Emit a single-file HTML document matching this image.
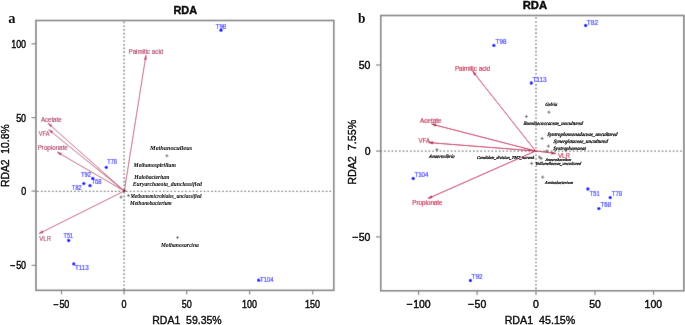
<!DOCTYPE html>
<html><head><meta charset="utf-8"><style>
html,body{margin:0;padding:0;background:#fff;overflow:hidden}
svg{display:block}
text{font-family:"Liberation Sans",sans-serif;white-space:pre;stroke:currentColor}
</style></head><body>
<svg width="685" height="325" viewBox="0 0 685 325">
<defs><filter id="bl" filterUnits="userSpaceOnUse" x="0" y="0" width="685" height="325"><feConvolveMatrix order="3" kernelMatrix="0.0100 0.0800 0.0100 0.0800 0.6400 0.0800 0.0100 0.0800 0.0100" edgeMode="duplicate"/></filter><filter id="id0" filterUnits="userSpaceOnUse" x="0" y="0" width="685" height="325"><feConvolveMatrix order="3" kernelMatrix="0.0000 0.0000 0.0000 0.0000 1.0000 0.0000 0.0000 0.0000 0.0000" edgeMode="duplicate"/></filter></defs>
<rect width="685" height="325" fill="#fff"/>
<g filter="url(#bl)">
<rect width="685" height="325" fill="#fff"/>
<rect x="35.95" y="20.5" width="297.85" height="269.85" fill="none" stroke="#808080" stroke-width="1.6"/>
<rect x="380.75" y="15.5" width="303.15" height="275.25" fill="none" stroke="#808080" stroke-width="1.6"/>
<g stroke="#5a5a5a" stroke-width="1.2" stroke-dasharray="1.6 2.10">
<line x1="124.1" y1="20.5" x2="124.1" y2="290.35" stroke-dashoffset="2.50"/>
<line stroke="#6e6e6e" stroke-width="1.15" x1="35.95" y1="191.3" x2="333.8" y2="191.3" stroke-dashoffset="2.45"/>
<line x1="536" y1="15.5" x2="536" y2="290.75" stroke-dashoffset="1.70"/>
<line stroke="#6e6e6e" stroke-width="1.15" x1="380.75" y1="151.1" x2="683.9" y2="151.1" stroke-dashoffset="0.25"/>
</g>
<g stroke="#808080" stroke-width="1.2">
<line x1="31.5" y1="43.8" x2="36" y2="43.8"/>
<line x1="31.5" y1="117.6" x2="36" y2="117.6"/>
<line x1="31.5" y1="191.1" x2="36" y2="191.1"/>
<line x1="31.5" y1="265.4" x2="36" y2="265.4"/>
<line x1="61.5" y1="290" x2="61.5" y2="294.5"/>
<line x1="124.1" y1="290" x2="124.1" y2="294.5"/>
<line x1="186.7" y1="290" x2="186.7" y2="294.5"/>
<line x1="249.6" y1="290" x2="249.6" y2="294.5"/>
<line x1="312.7" y1="290" x2="312.7" y2="294.5"/>
<line x1="376" y1="65" x2="381" y2="65"/>
<line x1="376" y1="151.1" x2="381" y2="151.1"/>
<line x1="376" y1="236.9" x2="381" y2="236.9"/>
<line x1="418.6" y1="290.5" x2="418.6" y2="295"/>
<line x1="477.1" y1="290.5" x2="477.1" y2="295"/>
<line x1="536" y1="290.5" x2="536" y2="295"/>
<line x1="595" y1="290.5" x2="595" y2="295"/>
<line x1="653.5" y1="290.5" x2="653.5" y2="295"/>
</g>
<g stroke="#c4104c" stroke-width="1.0" fill="none" stroke-linecap="round">
<line stroke="#b84866" stroke-width="0.9" x1="124.3" y1="191" x2="145.9" y2="55.7"/>
<path d="M145.9,55.7 L144.24,59.34 L146.35,59.68Z" fill="#b03058" stroke="#b03058" stroke-width="0.4"/>
<line stroke="#b84866" stroke-width="0.9" x1="124.3" y1="191" x2="48.3" y2="123.5"/>
<path d="M48.3,123.5 L50.47,126.86 L51.89,125.26Z" fill="#b03058" stroke="#b03058" stroke-width="0.4"/>
<line stroke="#b84866" stroke-width="0.9" x1="124.3" y1="191" x2="49.1" y2="130"/>
<path d="M49.1,130 L51.42,133.26 L52.77,131.6Z" fill="#b03058" stroke="#b03058" stroke-width="0.4"/>
<line stroke="#b84866" stroke-width="0.9" x1="124.3" y1="191" x2="57.5" y2="152.3"/>
<path d="M57.5,152.3 L60.3,155.16 L61.37,153.31Z" fill="#b03058" stroke="#b03058" stroke-width="0.4"/>
<line stroke="#b84866" stroke-width="0.9" x1="124.3" y1="191" x2="39.3" y2="233.5"/>
<path d="M39.3,233.5 L43.23,232.73 L42.27,230.82Z" fill="#b03058" stroke="#b03058" stroke-width="0.4"/>
<line stroke="#c4104c" stroke-width="1.0" x1="535.6" y1="151" x2="472.9" y2="71.6"/>
<path d="M472.9,71.6 L474.45,75.29 L476.13,73.96Z" fill="#a00c3c" stroke="#a00c3c" stroke-width="0.4"/>
<line stroke="#c4104c" stroke-width="1.0" x1="535.6" y1="151" x2="432" y2="124.2"/>
<path d="M432,124.2 L435.47,126.2 L436,124.13Z" fill="#a00c3c" stroke="#a00c3c" stroke-width="0.4"/>
<line stroke="#c4104c" stroke-width="1.0" x1="535.6" y1="151" x2="428.9" y2="142.6"/>
<path d="M428.9,142.6 L432.66,143.97 L432.83,141.84Z" fill="#a00c3c" stroke="#a00c3c" stroke-width="0.4"/>
<line stroke="#c4104c" stroke-width="1.0" x1="535.6" y1="151" x2="428.3" y2="198.4"/>
<path d="M428.3,198.4 L432.26,197.82 L431.4,195.87Z" fill="#a00c3c" stroke="#a00c3c" stroke-width="0.4"/>
<line stroke="#c4104c" stroke-width="1.0" x1="535.6" y1="151" x2="555.5" y2="153.4"/>
<path d="M555.5,153.4 L551.8,151.88 L551.54,154Z" fill="#a00c3c" stroke="#a00c3c" stroke-width="0.4"/>
</g>
<circle cx="124.5" cy="190.8" r="1.3" fill="#5a2035"/>
<g stroke="#505050" stroke-width="0.8">
<line x1="165.4" y1="155.8" x2="168.4" y2="155.8"/>
<line x1="166.9" y1="154.3" x2="166.9" y2="157.3"/>
<line x1="176" y1="237.5" x2="179" y2="237.5"/>
<line x1="177.5" y1="236" x2="177.5" y2="239"/>
<line x1="119.5" y1="197.1" x2="122.5" y2="197.1"/>
<line x1="121" y1="195.6" x2="121" y2="198.6"/>
<line x1="126.9" y1="195.5" x2="129.9" y2="195.5"/>
<line x1="128.4" y1="194" x2="128.4" y2="197"/>
<line x1="547.3" y1="112.2" x2="550.5" y2="112.2"/>
<line x1="548.9" y1="110.6" x2="548.9" y2="113.8"/>
<line x1="524.8" y1="116.5" x2="528" y2="116.5"/>
<line x1="526.4" y1="114.9" x2="526.4" y2="118.1"/>
<line x1="540.5" y1="138.5" x2="543.7" y2="138.5"/>
<line x1="542.1" y1="136.9" x2="542.1" y2="140.1"/>
<line x1="546.8" y1="146.2" x2="550" y2="146.2"/>
<line x1="548.4" y1="144.6" x2="548.4" y2="147.8"/>
<line x1="545.2" y1="151.1" x2="548.4" y2="151.1"/>
<line x1="546.8" y1="149.5" x2="546.8" y2="152.7"/>
<line x1="435.3" y1="149.7" x2="438.5" y2="149.7"/>
<line x1="436.9" y1="148.1" x2="436.9" y2="151.3"/>
<line x1="537.8" y1="157.1" x2="541" y2="157.1"/>
<line x1="539.4" y1="155.5" x2="539.4" y2="158.7"/>
<line x1="539.6" y1="158.5" x2="542.8" y2="158.5"/>
<line x1="541.2" y1="156.9" x2="541.2" y2="160.1"/>
<line x1="530.1" y1="163.5" x2="533.3" y2="163.5"/>
<line x1="531.7" y1="161.9" x2="531.7" y2="165.1"/>
<line x1="541.1" y1="177.1" x2="544.3" y2="177.1"/>
<line x1="542.7" y1="175.5" x2="542.7" y2="178.7"/>
</g>
<g fill="#0000ff">
<circle cx="221" cy="30.2" r="1.65"/>
<circle cx="106.3" cy="167.3" r="1.65"/>
<circle cx="92.8" cy="178.4" r="1.65"/>
<circle cx="90" cy="185.7" r="1.65"/>
<circle cx="83.8" cy="183.6" r="1.65"/>
<circle cx="68.7" cy="240.5" r="1.65"/>
<circle cx="73.8" cy="263.9" r="1.65"/>
<circle cx="258.7" cy="280.2" r="1.65"/>
<circle cx="585.7" cy="25.5" r="1.65"/>
<circle cx="493.9" cy="45.4" r="1.65"/>
<circle cx="531.3" cy="83" r="1.65"/>
<circle cx="413.2" cy="178.5" r="1.65"/>
<circle cx="470.4" cy="280.5" r="1.65"/>
<circle cx="587.9" cy="189" r="1.65"/>
<circle cx="610.2" cy="197.6" r="1.65"/>
<circle cx="598.9" cy="208.6" r="1.65"/>
</g>
<text transform="translate(215.81,29.01) scale(0.866,1)" x="0" y="0" fill="#1a1aff" color="#1a1aff" style="stroke-width:0.16px;font-family:'Liberation Sans';font-size:7px;">T98</text>
<text transform="translate(107.21,164.16) scale(0.806,1)" x="0" y="0" fill="#1a1aff" color="#1a1aff" style="stroke-width:0.16px;font-family:'Liberation Sans';font-size:7px;">T78</text>
<text transform="translate(80.91,176.96) scale(0.831,1)" x="0" y="0" fill="#1a1aff" color="#1a1aff" style="stroke-width:0.16px;font-family:'Liberation Sans';font-size:7px;">T92</text>
<text transform="translate(91.41,184.41) scale(0.831,1)" x="0" y="0" fill="#1a1aff" color="#1a1aff" style="stroke-width:0.16px;font-family:'Liberation Sans';font-size:7px;">T68</text>
<text transform="translate(72.11,190.11) scale(0.788,1)" x="0" y="0" fill="#1a1aff" color="#1a1aff" style="stroke-width:0.16px;font-family:'Liberation Sans';font-size:7px;">T82</text>
<text transform="translate(63.61,238.46) scale(0.788,1)" x="0" y="0" fill="#1a1aff" color="#1a1aff" style="stroke-width:0.16px;font-family:'Liberation Sans';font-size:7px;">T51</text>
<text transform="translate(75,270.21) scale(0.897,1)" x="0" y="0" fill="#1a1aff" color="#1a1aff" style="stroke-width:0.16px;font-family:'Liberation Sans';font-size:7px;">T113</text>
<text transform="translate(260.11,282.36) scale(0.849,1)" x="0" y="0" fill="#1a1aff" color="#1a1aff" style="stroke-width:0.16px;font-family:'Liberation Sans';font-size:7px;">T104</text>
<text transform="translate(586.8,24.66) scale(0.943,1)" x="0" y="0" fill="#1a1aff" color="#1a1aff" style="stroke-width:0.16px;font-family:'Liberation Sans';font-size:7px;">T82</text>
<text transform="translate(495.6,44.36) scale(0.900,1)" x="0" y="0" fill="#1a1aff" color="#1a1aff" style="stroke-width:0.16px;font-family:'Liberation Sans';font-size:7px;">T98</text>
<text transform="translate(532.4,81.96) scale(0.931,1)" x="0" y="0" fill="#1a1aff" color="#1a1aff" style="stroke-width:0.16px;font-family:'Liberation Sans';font-size:7px;">T113</text>
<text transform="translate(414.4,177.11) scale(0.881,1)" x="0" y="0" fill="#1a1aff" color="#1a1aff" style="stroke-width:0.16px;font-family:'Liberation Sans';font-size:7px;">T104</text>
<text transform="translate(471.6,279.26) scale(0.900,1)" x="0" y="0" fill="#1a1aff" color="#1a1aff" style="stroke-width:0.16px;font-family:'Liberation Sans';font-size:7px;">T92</text>
<text transform="translate(589.81,195.66) scale(0.814,1)" x="0" y="0" fill="#1a1aff" color="#1a1aff" style="stroke-width:0.16px;font-family:'Liberation Sans';font-size:7px;">T51</text>
<text transform="translate(611.7,196.11) scale(0.874,1)" x="0" y="0" fill="#1a1aff" color="#1a1aff" style="stroke-width:0.16px;font-family:'Liberation Sans';font-size:7px;">T78</text>
<text transform="translate(600.4,207.21) scale(0.900,1)" x="0" y="0" fill="#1a1aff" color="#1a1aff" style="stroke-width:0.16px;font-family:'Liberation Sans';font-size:7px;">T68</text>
<text transform="translate(128.52,54.02) scale(0.884,1)" x="0" y="0" fill="#a82450" color="#a82450" style="stroke-width:0.12px;font-family:'Liberation Sans';font-size:7px;">Palmitic acid</text>
<text transform="translate(40.9,122.41) scale(0.874,1)" x="0" y="0" fill="#a82450" color="#a82450" style="stroke-width:0.12px;font-family:'Liberation Sans';font-size:7px;">Acetate</text>
<text transform="translate(38.8,136.46) scale(0.807,1)" x="0" y="0" fill="#a82450" color="#a82450" style="stroke-width:0.12px;font-family:'Liberation Sans';font-size:7px;">VFA</text>
<text transform="translate(37.71,150.3) scale(0.887,1)" x="0" y="0" fill="#a82450" color="#a82450" style="stroke-width:0.12px;font-family:'Liberation Sans';font-size:7px;">Propionate</text>
<text transform="translate(39.3,240.96) scale(0.860,1)" x="0" y="0" fill="#a82450" color="#a82450" style="stroke-width:0.12px;font-family:'Liberation Sans';font-size:7px;">VLR</text>
<text transform="translate(454.91,70.82) scale(0.900,1)" x="0" y="0" fill="#c0103f" color="#c0103f" style="stroke-width:0.15px;font-family:'Liberation Sans';font-size:7px;">Palmitic acid</text>
<text transform="translate(420,122.71) scale(0.904,1)" x="0" y="0" fill="#c0103f" color="#c0103f" style="stroke-width:0.15px;font-family:'Liberation Sans';font-size:7px;">Acetate</text>
<text transform="translate(418.5,142.61) scale(0.867,1)" x="0" y="0" fill="#c0103f" color="#c0103f" style="stroke-width:0.15px;font-family:'Liberation Sans';font-size:7px;">VFA</text>
<text transform="translate(412.31,204.8) scale(0.896,1)" x="0" y="0" fill="#c0103f" color="#c0103f" style="stroke-width:0.15px;font-family:'Liberation Sans';font-size:7px;">Propionate</text>
<text transform="translate(557.9,157.66) scale(0.897,1)" x="0" y="0" fill="#c0103f" color="#c0103f" style="stroke-width:0.15px;font-family:'Liberation Sans';font-size:7px;">VLR</text>
</g>
<g filter="url(#id0)">
<text transform="translate(173.42,13.92) scale(0.990,1)" x="0" y="0" fill="#111" color="#111" style="stroke-width:0.45px;font-family:'Liberation Sans';font-size:11px;font-weight:bold;">RDA</text>
<text transform="translate(8.35,22.82) scale(0.967,1)" x="0" y="0" fill="#111" color="#111" style="stroke-width:0px;font-family:'Liberation Serif';font-size:15px;font-weight:bold;">a</text>
<text transform="translate(522.7,8.92) scale(1.020,1)" x="0" y="0" fill="#111" color="#111" style="stroke-width:0.45px;font-family:'Liberation Sans';font-size:11px;font-weight:bold;">RDA</text>
<text transform="translate(357.9,23.11) scale(0.956,1)" x="0" y="0" fill="#111" color="#111" style="stroke-width:0px;font-family:'Liberation Serif';font-size:14px;font-weight:bold;">b</text>
<text transform="translate(11.15,47.81) scale(0.880,1)" fill="#111" color="#111" style="stroke-width:0.45px;font-family:'Liberation Sans';font-size:10.2px;">100</text>
<text transform="translate(16.14,121.61) scale(0.880,1)" fill="#111" color="#111" style="stroke-width:0.45px;font-family:'Liberation Sans';font-size:10.2px;">50</text>
<text transform="translate(21.13,195.11) scale(0.880,1)" fill="#111" color="#111" style="stroke-width:0.45px;font-family:'Liberation Sans';font-size:10.2px;">0</text>
<text transform="translate(10.19,269.41) scale(0.880,1)" fill="#111" color="#111" style="stroke-width:0.45px;font-family:'Liberation Sans';font-size:10.2px;">−<tspan dx="0.8">50</tspan></text>
<text transform="translate(53.44,307.6) scale(0.880,1)" fill="#111" color="#111" style="stroke-width:0.45px;font-family:'Liberation Sans';font-size:10.2px;">−<tspan dx="0.8">50</tspan></text>
<text transform="translate(121.58,307.6) scale(0.880,1)" fill="#111" color="#111" style="stroke-width:0.45px;font-family:'Liberation Sans';font-size:10.2px;">0</text>
<text transform="translate(181.68,307.6) scale(0.880,1)" fill="#111" color="#111" style="stroke-width:0.45px;font-family:'Liberation Sans';font-size:10.2px;">50</text>
<text transform="translate(241.94,307.6) scale(0.880,1)" fill="#111" color="#111" style="stroke-width:0.45px;font-family:'Liberation Sans';font-size:10.2px;">100</text>
<text transform="translate(305.04,307.6) scale(0.880,1)" fill="#111" color="#111" style="stroke-width:0.45px;font-family:'Liberation Sans';font-size:10.2px;">150</text>
<text transform="translate(358.8,69.28) scale(0.980,1)" fill="#111" color="#111" style="stroke-width:0.45px;font-family:'Liberation Sans';font-size:10.7px;">50</text>
<text transform="translate(364.63,155.38) scale(0.980,1)" fill="#111" color="#111" style="stroke-width:0.45px;font-family:'Liberation Sans';font-size:10.7px;">0</text>
<text transform="translate(351.89,241.18) scale(0.980,1)" fill="#111" color="#111" style="stroke-width:0.45px;font-family:'Liberation Sans';font-size:10.7px;">−<tspan dx="0.8">50</tspan></text>
<text transform="translate(406.28,308) scale(0.980,1)" fill="#111" color="#111" style="stroke-width:0.45px;font-family:'Liberation Sans';font-size:10.7px;">−<tspan dx="0.8">100</tspan></text>
<text transform="translate(467.7,308) scale(0.980,1)" fill="#111" color="#111" style="stroke-width:0.45px;font-family:'Liberation Sans';font-size:10.7px;">−<tspan dx="0.8">50</tspan></text>
<text transform="translate(533.05,308) scale(0.980,1)" fill="#111" color="#111" style="stroke-width:0.45px;font-family:'Liberation Sans';font-size:10.7px;">0</text>
<text transform="translate(589.13,308) scale(0.980,1)" fill="#111" color="#111" style="stroke-width:0.45px;font-family:'Liberation Sans';font-size:10.7px;">50</text>
<text transform="translate(644.56,308) scale(0.980,1)" fill="#111" color="#111" style="stroke-width:0.45px;font-family:'Liberation Sans';font-size:10.7px;">100</text>
<text transform="translate(152.28,323.56) scale(0.973,1)" x="0" y="0" fill="#111" color="#111" style="stroke-width:0.4px;font-family:'Liberation Sans';font-size:10.8px;">RDA1  59.35%</text>
<text transform="translate(504.66,323.86) scale(0.990,1)" x="0" y="0" fill="#111" color="#111" style="stroke-width:0.4px;font-family:'Liberation Sans';font-size:10.8px;">RDA1  45.15%</text>
<text transform="translate(9.36,187.01) rotate(-90) scale(0.958,1)" x="0" y="0" fill="#111" color="#111" style="stroke-width:0.4px;font-family:'Liberation Sans';font-size:10.8px;">RDA2  10.8%</text>
<text transform="translate(356.21,184.84) rotate(-90) scale(0.996,1)" x="0" y="0" fill="#111" color="#111" style="stroke-width:0.4px;font-family:'Liberation Sans';font-size:10.8px;">RDA2  7.55%</text>
<text transform="translate(150.1,150) scale(0.942,1)" x="0" y="0" fill="#111" color="#111" style="stroke-width:0.05px;font-family:'Liberation Serif';font-size:6.7px;font-weight:bold;font-style:italic;">Methanoculleus</text>
<text transform="translate(133.59,167.37) scale(0.849,1)" x="0" y="0" fill="#111" color="#111" style="stroke-width:0.05px;font-family:'Liberation Serif';font-size:6.7px;font-weight:bold;font-style:italic;">Methanospirillum</text>
<text transform="translate(134.29,179.45) scale(0.843,1)" x="0" y="0" fill="#111" color="#111" style="stroke-width:0.05px;font-family:'Liberation Serif';font-size:6.7px;font-weight:bold;font-style:italic;">Halobacterium</text>
<text transform="translate(132.69,185.68) scale(0.852,1)" x="0" y="0" fill="#111" color="#111" style="stroke-width:0.05px;font-family:'Liberation Serif';font-size:6.7px;font-weight:bold;font-style:italic;">Euryarchaeota_dunclassified</text>
<text transform="translate(130.58,197.68) scale(0.762,1)" x="0" y="0" fill="#111" color="#111" style="stroke-width:0.05px;font-family:'Liberation Serif';font-size:6.7px;font-weight:bold;font-style:italic;">Methanomicrobiales_unclassified</text>
<text transform="translate(130.08,205.15) scale(0.790,1)" x="0" y="0" fill="#111" color="#111" style="stroke-width:0.05px;font-family:'Liberation Serif';font-size:6.7px;font-weight:bold;font-style:italic;">Methanobacterium</text>
<text transform="translate(160.99,246.55) scale(0.834,1)" x="0" y="0" fill="#111" color="#111" style="stroke-width:0.05px;font-family:'Liberation Serif';font-size:6.7px;font-weight:bold;font-style:italic;">Methanosarcina</text>
<text transform="translate(545.06,105.86) scale(0.920,1) skewX(-12)" x="0" y="0" fill="#111" color="#111" style="stroke-width:0.2px;font-family:'Liberation Serif';font-size:4.96px;font-weight:bold;font-style:italic;">Gelria</text>
<text transform="translate(523.17,125.15) scale(0.920,1) skewX(-12)" x="0" y="0" fill="#111" color="#111" style="stroke-width:0.2px;font-family:'Liberation Serif';font-size:5.17px;font-weight:bold;font-style:italic;">Ruminococcaceae_uncultured</text>
<text transform="translate(547.02,135.88) scale(0.920,1) skewX(-12)" x="0" y="0" fill="#111" color="#111" style="stroke-width:0.2px;font-family:'Liberation Serif';font-size:5.27px;font-weight:bold;font-style:italic;">Syntrophomonadaceae_uncultured</text>
<text transform="translate(553.32,143.03) scale(0.920,1) skewX(-12)" x="0" y="0" fill="#111" color="#111" style="stroke-width:0.2px;font-family:'Liberation Serif';font-size:5.27px;font-weight:bold;font-style:italic;">Synergistaceae_uncultured</text>
<text transform="translate(552.93,149.69) scale(0.920,1) skewX(-12)" x="0" y="0" fill="#111" color="#111" style="stroke-width:0.2px;font-family:'Liberation Serif';font-size:5.12px;font-weight:bold;font-style:italic;">Syntrophomonas</text>
<text transform="translate(428.79,158.25) scale(0.920,1) skewX(-12)" x="0" y="0" fill="#111" color="#111" style="stroke-width:0.2px;font-family:'Liberation Serif';font-size:5.1px;font-weight:bold;font-style:italic;">Anaerovibrio</text>
<text transform="translate(476.87,158.76) scale(0.920,1) skewX(-12)" x="0" y="0" fill="#111" color="#111" style="stroke-width:0.2px;font-family:'Liberation Serif';font-size:4.47px;font-weight:bold;font-style:italic;">Candidate_division_TM7_norank</text>
<text transform="translate(545.14,161.1) scale(0.920,1) skewX(-12)" x="0" y="0" fill="#111" color="#111" style="stroke-width:0.2px;font-family:'Liberation Serif';font-size:4.21px;font-weight:bold;font-style:italic;">Anaerobaculum</text>
<text transform="translate(534.91,164.9) scale(0.920,1) skewX(-12)" x="0" y="0" fill="#111" color="#111" style="stroke-width:0.2px;font-family:'Liberation Serif';font-size:4.44px;font-weight:bold;font-style:italic;">Veillonellaceae_uncultured</text>
<text transform="translate(544.85,183.81) scale(0.920,1) skewX(-12)" x="0" y="0" fill="#111" color="#111" style="stroke-width:0.2px;font-family:'Liberation Serif';font-size:4.39px;font-weight:bold;font-style:italic;">Aminobacterium</text>
</g>
</svg>
</body></html>
